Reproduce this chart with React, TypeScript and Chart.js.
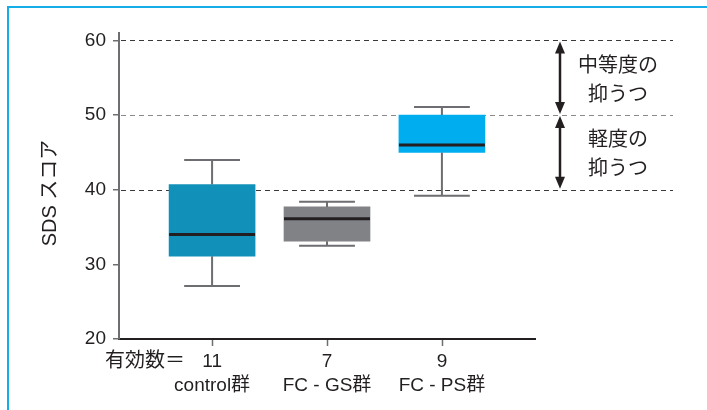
import React, { useEffect, useRef } from "react";
import { Chart, registerables } from "chart.js";

Chart.register(...registerables);

// ---- data ----
const groups = ["control群", "FC - GS群", "FC - PS群"];
const counts = ["11", "7", "9"];
const positions = [1, 2, 3];
const whiskerMin = [27.1, 32.5, 39.2];
const q1 = [31.1, 33.1, 45.0];
const median = [34.0, 36.1, 46.0];
const q3 = [40.7, 37.7, 50.0];
const whiskerMax = [44.0, 38.4, 51.1];
const yTicks = [20, 30, 40, 50, 60];
const refLines = [60, 50, 40];
const bandLow = [50, 40];
const bandHigh = [60, 50];
const bandLabels = [
  ["中等度の", "抑うつ"],
  ["軽度の", "抑うつ"],
];
const countPrefix = "有効数＝";
const yTitle = "SDS スコア";

// ---- styles ----
const FONT = "'Liberation Sans', 'Noto Sans CJK JP', sans-serif";
const TEXT = "#231f20";
const boxColors = ["#1191b9", "#818286", "#00aeef"];
const refLineColors = ["#3a3a3a", "#8a8a8a", "#3a3a3a"];
const BOX_HALF = 0.374;
const CAP_HALF = 0.243;

const overlay = {
  id: "overlay",
  beforeDraw(chart: any) {
    const ctx = chart.ctx;
    ctx.save();
    ctx.fillStyle = "#ffffff";
    ctx.fillRect(0, 0, chart.width, chart.height);
    ctx.strokeStyle = "#14ade8";
    ctx.lineWidth = 2;
    ctx.beginPath();
    ctx.moveTo(7, 7);
    ctx.lineTo(chart.width, 7);
    ctx.moveTo(8, 6);
    ctx.lineTo(8, chart.height);
    ctx.stroke();
    ctx.restore();
  },
  beforeDatasetsDraw(chart: any) {
    const { ctx, chartArea, scales } = chart;
    const y = scales.y;
    ctx.save();
    ctx.lineWidth = 1;
    ctx.setLineDash([5, 4]);
    refLines.forEach((v, i) => {
      const py = Math.round(y.getPixelForValue(v)) + 0.5;
      ctx.strokeStyle = refLineColors[i];
      ctx.beginPath();
      ctx.moveTo(chartArea.left + 2, py);
      ctx.lineTo(chartArea.right + 138, py);
      ctx.stroke();
    });
    ctx.restore();
  },
  afterDraw(chart: any) {
    const { ctx, chartArea, scales } = chart;
    const y = scales.y;
    const x = scales.x;
    ctx.save();
    // x tick marks
    ctx.strokeStyle = "#6d6e71";
    ctx.lineWidth = 1.5;
    positions.forEach((p) => {
      const px = Math.round(x.getPixelForValue(p)) + 0.5;
      ctx.beginPath();
      ctx.moveTo(px, chartArea.bottom + 1);
      ctx.lineTo(px, chartArea.bottom + 7);
      ctx.stroke();
    });

    const ax = chartArea.right + 25;
    ctx.fillStyle = TEXT;
    ctx.strokeStyle = TEXT;
    bandLow.forEach((lo, i) => {
      const hi = bandHigh[i];
      const yt = y.getPixelForValue(hi) + 1;
      const yb = y.getPixelForValue(lo) - 1;
      ctx.lineWidth = 2.5;
      ctx.beginPath();
      ctx.moveTo(ax, yt + 8);
      ctx.lineTo(ax, yb - 8);
      ctx.stroke();
      ctx.beginPath();
      ctx.moveTo(ax, yt);
      ctx.lineTo(ax - 5, yt + 12);
      ctx.lineTo(ax + 5, yt + 12);
      ctx.closePath();
      ctx.fill();
      ctx.beginPath();
      ctx.moveTo(ax, yb);
      ctx.lineTo(ax - 5, yb - 12);
      ctx.lineTo(ax + 5, yb - 12);
      ctx.closePath();
      ctx.fill();
      const mid = (yt + yb) / 2 + 3;
      ctx.font = `20px ${FONT}`;
      ctx.textAlign = "center";
      ctx.textBaseline = "middle";
      ctx.fillText(bandLabels[i][0], chartArea.right + 83, mid - 14.5);
      ctx.fillText(bandLabels[i][1], chartArea.right + 83, mid + 14.5);
    });
    ctx.font = `20px ${FONT}`;
    ctx.textAlign = "right";
    ctx.textBaseline = "middle";
    ctx.fillText(countPrefix, x.getPixelForValue(positions[0]) - 27, chartArea.bottom + 22);

    // y-axis title, rotated
    ctx.translate(50, (chartArea.top + chartArea.bottom) / 2 + 7);
    ctx.rotate(-Math.PI / 2);
    ctx.textAlign = "center";
    ctx.textBaseline = "middle";
    ctx.font = `20px ${FONT}`;
    ctx.fillText(yTitle, 0, 0);
    ctx.restore();
  },
};

function whiskerData(i: number) {
  const c = positions[i];
  return [
    { x: c - CAP_HALF, y: whiskerMax[i] },
    { x: c + CAP_HALF, y: whiskerMax[i] },
    { x: c, y: null },
    { x: c, y: whiskerMax[i] },
    { x: c, y: q3[i] },
    { x: c, y: null },
    { x: c, y: q1[i] },
    { x: c, y: whiskerMin[i] },
    { x: c, y: null },
    { x: c - CAP_HALF, y: whiskerMin[i] },
    { x: c + CAP_HALF, y: whiskerMin[i] },
  ];
}

export default function App() {
  const ref = useRef<HTMLCanvasElement>(null);
  useEffect(() => {
    const datasets: any[] = [
      {
        type: "bar",
        data: positions.map((p, i) => ({ x: p, y: [q1[i], q3[i]] })),
        backgroundColor: boxColors,
        borderWidth: 0,
        barThickness: 86,
        order: 3,
      },
      ...positions.map((_, i) => ({
        type: "line",
        data: whiskerData(i),
        borderColor: "#6d6e71",
        borderWidth: 2,
        pointRadius: 0,
        spanGaps: false,
        order: 2,
      })),
      ...positions.map((p, i) => ({
        type: "line",
        data: [
          { x: p - BOX_HALF, y: median[i] },
          { x: p + BOX_HALF, y: median[i] },
        ],
        borderColor: TEXT,
        borderWidth: 3,
        pointRadius: 0,
        order: 1,
      })),
    ];
    const chart = new Chart(ref.current as HTMLCanvasElement, {
      type: "bar",
      data: { datasets },
      options: {
        responsive: false,
        animation: false,
        devicePixelRatio: 1,
        layout: { padding: { top: 33, right: 172, left: 0, bottom: 0 } },
        plugins: { legend: { display: false }, tooltip: { enabled: false } },
        scales: {
          x: {
            type: "linear",
            min: 0.19,
            max: 3.81,
            offset: false,
            afterBuildTicks: (s: any) => {
              s.ticks = positions.map((v) => ({ value: v }));
            },
            afterFit: (s: any) => {
              s.height = 71;
            },
            grid: { offset: false, drawOnChartArea: false, drawTicks: false, tickLength: 7 },
            border: { display: true, color: TEXT, width: 2 },
            ticks: {
              callback: (v: any) => {
                const i = positions.indexOf(Number(v));
                return i >= 0 ? [counts[i], groups[i]] : "";
              },
              color: TEXT,
              font: { family: FONT, size: 19, lineHeight: 1.25 },
              padding: 11,
              maxRotation: 0,
              autoSkip: false,
            },
          },
          y: {
            type: "linear",
            min: 20,
            max: 61,
            afterBuildTicks: (s: any) => {
              s.ticks = yTicks.map((v) => ({ value: v }));
            },
            afterFit: (s: any) => {
              s.width = 119;
            },
            grid: { drawOnChartArea: false, drawTicks: true, tickLength: 6, color: "#6d6e71", lineWidth: 1.5 },
            border: { display: true, color: "#6d6e71", width: 2 },
            ticks: {
              color: TEXT,
              font: { family: FONT, size: 19 },
              padding: 7,
            },
            title: { display: false },
          },
        },
      } as any,
      plugins: [overlay],
    } as any);
    return () => chart.destroy();
  }, []);
  return (
    <div style={{ position: "fixed", left: 0, top: 0, width: 707, height: 410 }}>
      <canvas ref={ref} width={707} height={410} style={{ display: "block", width: 707, height: 410 }} />
    </div>
  );
}
